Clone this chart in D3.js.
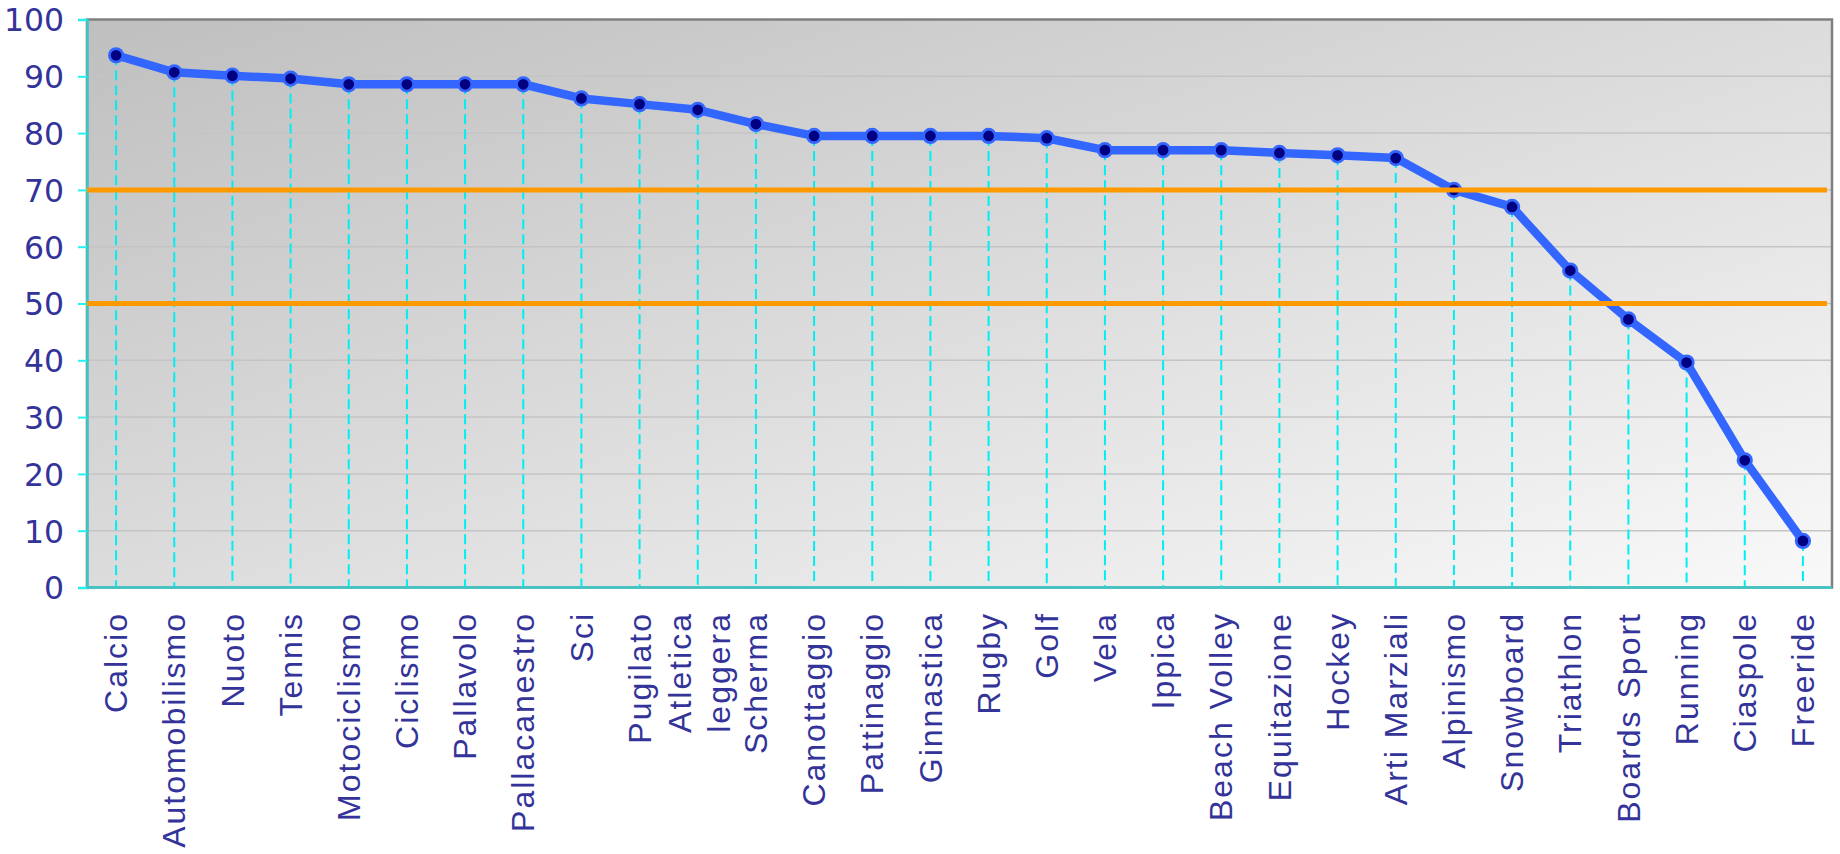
<!DOCTYPE html>
<html>
<head>
<meta charset="utf-8">
<script src="https://cdn.jsdelivr.net/npm/d3@7"></script>
<style>
  html, body { margin: 0; padding: 0; background: #ffffff; }
  svg { display: block; }
</style>
</head>
<body>
<svg id="chart" width="1840" height="854"></svg>
<script>
// Sports ranked by score (0-100); "\n" marks a wrapped label
const categories = [
  "Calcio", "Automobilismo", "Nuoto", "Tennis", "Motociclismo", "Ciclismo",
  "Pallavolo", "Pallacanestro", "Sci", "Pugilato", "Atletica\nleggera", "Scherma",
  "Canottaggio", "Pattinaggio", "Ginnastica", "Rugby", "Golf", "Vela", "Ippica",
  "Beach Volley", "Equitazione", "Hockey", "Arti Marziali", "Alpinismo",
  "Snowboard", "Triathlon", "Boards Sport", "Running", "Ciaspole", "Freeride"
];
const values = [
  93.7, 90.7, 90.1, 89.6, 88.6, 88.6,
  88.6, 88.6, 86.1, 85.1, 84.1, 81.6,
  79.5, 79.5, 79.5, 79.5, 79.1, 77.0, 77.0,
  77.0, 76.5, 76.1, 75.6, 70.0,
  67.0, 55.8, 47.2, 39.6, 22.4, 8.2
];
const yTicks = [0, 10, 20, 30, 40, 50, 60, 70, 80, 90, 100];
const thresholds = [70, 50];

const data = categories.map((c, i) => ({ cat: c, val: values[i] }));

const plotLeft = 87, plotRight = 1832, plotTop = 19.5, plotBottom = 587.5;
const svg = d3.select("#chart");

const x = d3.scalePoint().domain(categories).range([plotLeft, plotRight]).padding(0.5);
const y = d3.scaleLinear().domain([0, 100]).range([plotBottom, plotTop]);

// plot background gradient
const defs = svg.append("defs");
const grad = defs.append("linearGradient").attr("id", "bg")
  .attr("x1", 0).attr("y1", 0).attr("x2", 1).attr("y2", 1);
grad.append("stop").attr("offset", "0%").attr("stop-color", "#bfbfbf");
grad.append("stop").attr("offset", "100%").attr("stop-color", "#f9f9f9");

svg.append("rect")
  .attr("x", plotLeft).attr("y", plotTop)
  .attr("width", plotRight - plotLeft).attr("height", plotBottom - plotTop)
  .attr("fill", "url(#bg)");

// horizontal gridlines
svg.append("g").selectAll("line")
  .data(yTicks.filter(t => t > 0 && t < 100))
  .join("line")
  .attr("x1", plotLeft).attr("x2", plotRight)
  .attr("y1", d => y(d)).attr("y2", d => y(d))
  .attr("stroke", "#c4c4c4").attr("stroke-width", 1.5);

// frame (top/right grey)
svg.append("rect")
  .attr("x", plotLeft).attr("y", plotTop)
  .attr("width", plotRight - plotLeft).attr("height", plotBottom - plotTop)
  .attr("fill", "none").attr("stroke", "#808080").attr("stroke-width", 2.5);

// dashed drop lines from each point to the axis
svg.append("g").selectAll("line")
  .data(data)
  .join("line")
  .attr("x1", d => x(d.cat)).attr("x2", d => x(d.cat))
  .attr("y1", d => y(d.val)).attr("y2", plotBottom)
  .attr("stroke", "#00eef2").attr("stroke-width", 2)
  .attr("stroke-dasharray", "10,5");

// y axis
const yAxis = svg.append("g")
  .attr("transform", `translate(${plotLeft},0)`)
  .call(d3.axisLeft(y).tickValues(yTicks).tickSize(9).tickPadding(14));
yAxis.select(".domain").attr("stroke", "#3cc8c8").attr("stroke-width", 2.5);
yAxis.selectAll(".tick line").attr("stroke", "#22f2f2").attr("stroke-width", 2);
yAxis.selectAll(".tick text")
  .attr("fill", "#333399")
  .attr("font-family", "'DejaVu Sans', Verdana, sans-serif")
  .attr("font-size", 31.5)
  .attr("dy", "0.36em");

// x axis line
svg.append("line")
  .attr("x1", plotLeft).attr("x2", plotRight)
  .attr("y1", plotBottom).attr("y2", plotBottom)
  .attr("stroke", "#3cc8c8").attr("stroke-width", 2.5);

// category labels, rotated
const labels = svg.append("g").selectAll("text")
  .data(categories)
  .join("text")
  .attr("transform", d => `translate(${x(d)},612) rotate(-90)`)
  .attr("text-anchor", "end")
  .attr("fill", "#333399")
  .attr("font-family", "'Liberation Sans', Arial, sans-serif")
  .attr("font-size", 32)
  .attr("letter-spacing", 2);
labels.each(function (d) {
  const lines = d.split("\n");
  const t = d3.select(this);
  lines.forEach((ln, i) => {
    const first = lines.length === 1 ? "0.35em" : "-0.2em";
    t.append("tspan").attr("x", 0)
      .attr("dy", i === 0 ? first : "1.2em")
      .text(ln);
  });
});

// series line
const line = d3.line().x(d => x(d.cat)).y(d => y(d.val));
svg.append("path")
  .datum(data)
  .attr("d", line)
  .attr("fill", "none")
  .attr("stroke", "#3366ff")
  .attr("stroke-width", 8.5)
  .attr("stroke-linejoin", "round");

// markers
svg.append("g").selectAll("circle")
  .data(data)
  .join("circle")
  .attr("cx", d => x(d.cat)).attr("cy", d => y(d.val))
  .attr("r", 6.75)
  .attr("fill", "#000080")
  .attr("stroke", "#3366ff").attr("stroke-width", 2.75);

// threshold lines
svg.append("g").selectAll("line")
  .data(thresholds)
  .join("line")
  .attr("x1", plotLeft).attr("x2", plotRight - 5)
  .attr("y1", d => y(d)).attr("y2", d => y(d))
  .attr("stroke", "#ff9900").attr("stroke-width", 5);
</script>
</body>
</html>
